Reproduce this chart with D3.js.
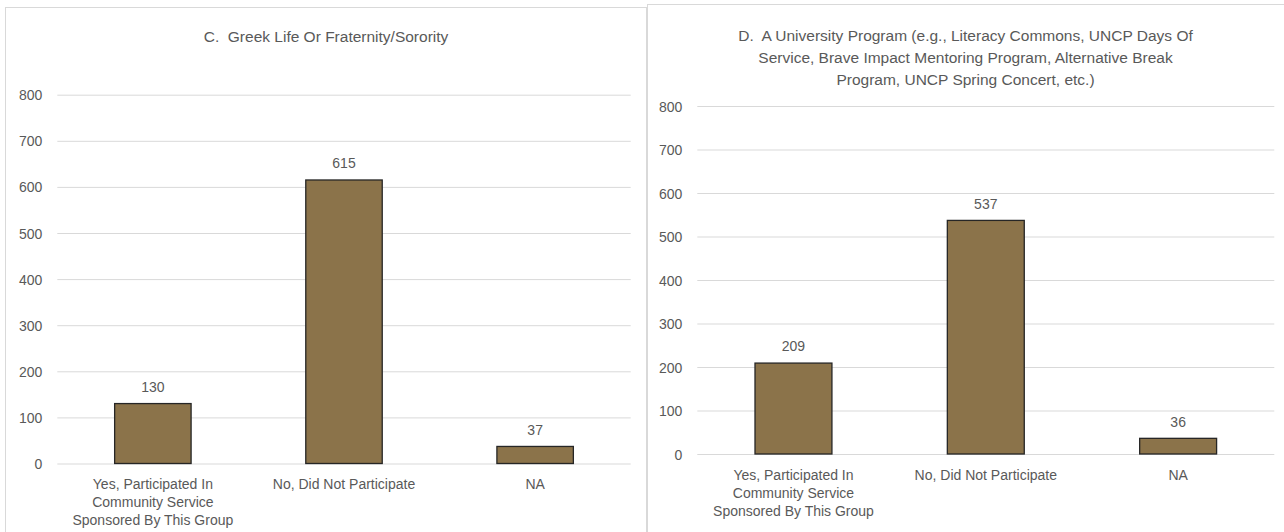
<!DOCTYPE html>
<html>
<head>
<meta charset="utf-8">
<script src="https://cdn.jsdelivr.net/npm/d3@7/dist/d3.min.js"></script>
<style>
  html, body { margin: 0; padding: 0; background: #ffffff; }
  svg { display: block; }
  text { font-family: "Liberation Sans", Arial, sans-serif; fill: #595959; white-space: pre; }
</style>
</head>
<body>
<svg id="chart" width="1284" height="532"></svg>
<script>
// Response categories (shared by both panels), with their wrapped label lines
const categories = [
  "Yes, Participated In Community Service Sponsored By This Group",
  "No, Did Not Participate",
  "NA"
];
const categoryLines = [
  ["Yes, Participated In", "Community Service", "Sponsored By This Group"],
  ["No, Did Not Participate"],
  ["NA"]
];

// Counts per panel
const greekLifeValues = [130, 615, 37];
const universityProgramValues = [209, 537, 36];

// Value axis ticks
const yTicks = [0, 100, 200, 300, 400, 500, 600, 700, 800];

// Panel titles
const greekLifeTitle = ["C.  Greek Life Or Fraternity/Sorority"];
const universityProgramTitle = [
  "D.  A University Program (e.g., Literacy Commons, UNCP Days Of",
  "Service, Brave Impact Mentoring Program, Alternative Break",
  "Program, UNCP Spring Concert, etc.)"
];

const svg = d3.select("#chart");
const FONT = 14;
const CAP_HALF = 5;
const BAR_FILL = "#8b734a";
const BAR_STROKE = "#262626";
const GRID = "#d9d9d9";

svg.append("rect").attr("width", 1284).attr("height", 532).attr("fill", "#ffffff");

function drawPanel(cfg) {
  const g = svg.append("g");

  // chart frame
  g.append("rect")
    .attr("x", cfg.frame.x).attr("y", cfg.frame.y)
    .attr("width", cfg.frame.w).attr("height", cfg.frame.h)
    .attr("fill", "#ffffff").attr("stroke", GRID).attr("stroke-width", 1);

  const x = d3.scaleBand()
    .domain(categories)
    .range([cfg.plot.left, cfg.plot.right])
    .paddingInner(0.6)
    .paddingOuter(0.3);

  const y = d3.scaleLinear()
    .domain([0, 800])
    .range([cfg.plot.bottom, cfg.plot.top]);

  // title
  g.append("g").selectAll("text")
    .data(cfg.title)
    .join("text")
    .attr("x", cfg.titleX)
    .attr("y", (d, i) => cfg.titleY + i * cfg.titleStep + 5.5)
    .attr("text-anchor", "middle")
    .style("font-size", cfg.titleSize + "px")
    .text(d => d);

  // value axis with gridlines
  const yAxis = d3.axisLeft(y)
    .tickValues(yTicks)
    .tickSize(-(cfg.plot.right - cfg.plot.left))
    .tickPadding(15)
    .tickFormat(d3.format("d"));

  const ya = g.append("g")
    .attr("transform", `translate(${cfg.plot.left},0)`)
    .call(yAxis);
  ya.select(".domain").remove();
  ya.selectAll(".tick line").attr("stroke", GRID).attr("stroke-width", 1);
  ya.selectAll(".tick text")
    .attr("fill", "#595959")
    .attr("dy", null)
    .attr("y", CAP_HALF)
    .style("font-size", FONT + "px")
    .style("font-family", "\"Liberation Sans\", Arial, sans-serif");

  // bars
  g.append("g").selectAll("rect")
    .data(cfg.values)
    .join("rect")
    .attr("x", (d, i) => x(categories[i]))
    .attr("y", d => y(d))
    .attr("width", x.bandwidth())
    .attr("height", d => y(0) - y(d))
    .attr("fill", BAR_FILL)
    .attr("stroke", BAR_STROKE)
    .attr("stroke-width", 1.3);

  // data labels
  g.append("g").selectAll("text")
    .data(cfg.values)
    .join("text")
    .attr("x", (d, i) => x(categories[i]) + x.bandwidth() / 2)
    .attr("y", d => y(d) - 16.7 + CAP_HALF)
    .attr("text-anchor", "middle")
    .style("font-size", FONT + "px")
    .text(d => d);

  // category labels
  const cg = g.append("g").selectAll("g")
    .data(categories)
    .join("g")
    .attr("transform", d => `translate(${x(d) + x.bandwidth() / 2},${y(0)})`);
  cg.selectAll("text")
    .data((d, i) => categoryLines[i])
    .join("text")
    .attr("x", 0)
    .attr("y", (d, i) => cfg.catOffset + i * 18 + CAP_HALF)
    .attr("text-anchor", "middle")
    .style("font-size", FONT + "px")
    .text(d => d);
}

drawPanel({
  frame: { x: 5.5, y: 7.5, w: 641, h: 540 },
  plot: { left: 57.3, right: 630.7, top: 94.7, bottom: 463.5 },
  title: greekLifeTitle,
  titleX: 326,
  titleY: 36,
  titleStep: 22,
  titleSize: 15.5,
  values: greekLifeValues,
  catOffset: 20
});

drawPanel({
  frame: { x: 647.5, y: 4.5, w: 650, h: 540 },
  plot: { left: 697.3, right: 1274.3, top: 106, bottom: 454 },
  title: universityProgramTitle,
  titleX: 965.5,
  titleY: 35,
  titleStep: 22,
  titleSize: 15.5,
  values: universityProgramValues,
  catOffset: 20.5
});
</script>
</body>
</html>
